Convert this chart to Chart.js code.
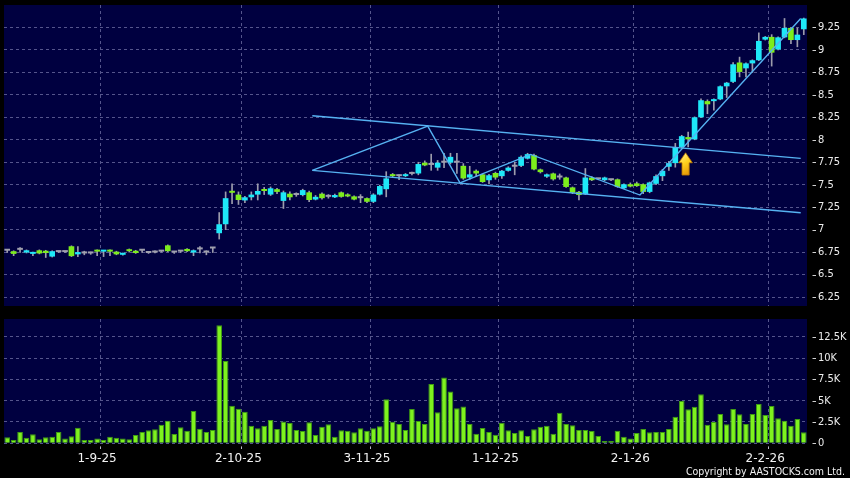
<!DOCTYPE html>
<html><head><meta charset="utf-8">
<script src="https://cdn.jsdelivr.net/npm/chart.js@4.4.1/dist/chart.umd.min.js"></script>
<style>
html,body{margin:0;padding:0;background:#000;}
#wrap{position:relative;width:850px;height:478px;background:#000;overflow:hidden;}
#pc{position:absolute;left:0;top:0;}
#vc{position:absolute;left:0;top:310px;}
#copy{position:absolute;right:5px;top:465px;font-family:'DejaVu Sans Condensed','DejaVu Sans',sans-serif;font-size:10.5px;color:#f2f2f2;line-height:12px;white-space:nowrap;}
</style></head><body>
<div id="wrap">
<canvas id="pc" width="850" height="310"></canvas>
<canvas id="vc" width="850" height="168"></canvas>
<div id="copy">Copyright by AASTOCKS.com Ltd.</div>
</div>
<script>
// ---------- DATA ----------
const categories = [
'11-8-25','12-8-25','13-8-25','14-8-25','15-8-25','18-8-25','19-8-25','20-8-25','21-8-25','22-8-25','25-8-25','26-8-25','27-8-25','28-8-25','29-8-25',
'1-9-25','2-9-25','3-9-25','4-9-25','5-9-25','8-9-25','9-9-25','10-9-25','11-9-25','12-9-25','15-9-25','16-9-25','17-9-25','18-9-25','19-9-25','22-9-25','23-9-25','24-9-25','25-9-25','26-9-25','29-9-25','30-9-25',
'2-10-25','3-10-25','6-10-25','8-10-25','9-10-25','10-10-25','13-10-25','14-10-25','15-10-25','16-10-25','17-10-25','20-10-25','21-10-25','22-10-25','23-10-25','24-10-25','27-10-25','28-10-25','30-10-25','31-10-25',
'3-11-25','4-11-25','5-11-25','6-11-25','7-11-25','10-11-25','11-11-25','12-11-25','13-11-25','14-11-25','17-11-25','18-11-25','19-11-25','20-11-25','21-11-25','24-11-25','25-11-25','26-11-25','27-11-25','28-11-25',
'1-12-25','2-12-25','3-12-25','4-12-25','5-12-25','8-12-25','9-12-25','10-12-25','11-12-25','12-12-25','15-12-25','16-12-25','17-12-25','18-12-25','19-12-25','22-12-25','23-12-25','24-12-25','29-12-25','30-12-25','31-12-25',
'2-1-26','5-1-26','6-1-26','7-1-26','8-1-26','9-1-26','12-1-26','13-1-26','14-1-26','15-1-26','16-1-26','19-1-26','20-1-26','21-1-26','22-1-26','23-1-26','26-1-26','27-1-26','28-1-26','29-1-26','30-1-26',
'2-2-26','3-2-26','4-2-26','5-2-26','6-2-26','9-2-26'];

const xTickLabels = ['1-9-25','2-10-25','3-11-25','1-12-25','2-1-26','2-2-26'];

const opens = [
6.765,6.76,6.775,6.745,6.73,6.77,6.765,6.70,6.75,6.75,
6.815,6.725,6.735,6.735,6.77,6.755,6.77,6.755,6.72,6.78,
6.765,6.765,6.74,6.745,6.755,6.825,6.745,6.755,6.785,6.745,
6.78,6.745,6.79,6.96,7.06,7.43,7.39,7.325,7.36,7.39,
7.445,7.39,7.45,7.32,7.40,7.385,7.385,7.415,7.335,7.40,
7.365,7.36,7.415,7.39,7.37,7.35,7.35,7.31,7.39,7.45,
7.615,7.595,7.595,7.62,7.625,7.745,7.72,7.69,7.745,7.745,
7.745,7.71,7.58,7.655,7.615,7.55,7.63,7.595,7.655,7.70,
7.71,7.79,7.83,7.67,7.59,7.625,7.58,7.58,7.47,7.42,
7.395,7.58,7.56,7.55,7.55,7.56,7.46,7.505,7.515,7.505,
7.42,7.51,7.595,7.70,7.74,7.92,8.03,8.005,8.25,8.43,
8.43,8.45,8.595,8.645,8.86,8.795,8.85,8.885,9.115,9.145,
9.005,9.14,9.245,9.11,9.23];

const highs = [
6.78,6.765,6.80,6.775,6.75,6.775,6.77,6.765,6.755,6.755,
6.82,6.81,6.76,6.75,6.775,6.77,6.775,6.76,6.74,6.785,
6.77,6.775,6.745,6.765,6.76,6.83,6.755,6.765,6.79,6.775,
6.81,6.765,6.795,7.19,7.42,7.51,7.42,7.37,7.42,7.51,
7.47,7.475,7.46,7.43,7.42,7.41,7.45,7.43,7.38,7.41,
7.39,7.395,7.42,7.40,7.375,7.39,7.355,7.40,7.495,7.645,
7.625,7.61,7.625,7.64,7.75,7.765,7.84,7.77,7.85,7.85,
7.85,7.735,7.705,7.665,7.62,7.615,7.64,7.66,7.70,7.75,
7.82,7.85,7.84,7.675,7.62,7.63,7.62,7.585,7.475,7.425,
7.68,7.59,7.565,7.585,7.56,7.565,7.51,7.52,7.53,7.51,
7.53,7.61,7.67,7.76,7.96,8.05,8.085,8.255,8.455,8.445,
8.455,8.60,8.64,8.86,8.92,8.855,8.89,9.19,9.15,9.17,
9.145,9.35,9.25,9.245,9.355];

const lows = [
6.745,6.71,6.745,6.74,6.71,6.73,6.69,6.695,6.745,6.745,
6.70,6.70,6.72,6.725,6.71,6.70,6.71,6.72,6.715,6.75,
6.735,6.745,6.735,6.74,6.75,6.755,6.735,6.745,6.755,6.71,
6.74,6.72,6.745,6.895,7.00,7.29,7.28,7.30,7.33,7.33,
7.39,7.38,7.40,7.235,7.33,7.37,7.375,7.31,7.33,7.34,
7.35,7.355,7.36,7.365,7.33,7.30,7.30,7.30,7.385,7.365,
7.58,7.555,7.59,7.61,7.61,7.71,7.66,7.66,7.69,7.73,
7.625,7.56,7.56,7.59,7.525,7.51,7.56,7.57,7.65,7.61,
7.70,7.785,7.665,7.63,7.58,7.55,7.56,7.47,7.40,7.33,
7.39,7.545,7.555,7.545,7.545,7.47,7.455,7.475,7.48,7.40,
7.41,7.50,7.545,7.66,7.695,7.91,7.92,8.00,8.245,8.29,
8.33,8.445,8.47,8.635,8.70,8.70,8.75,8.88,9.11,8.82,
9.00,9.135,9.07,9.035,9.17];

const closes = [
6.765,6.73,6.775,6.77,6.745,6.735,6.74,6.76,6.75,6.75,
6.705,6.75,6.735,6.735,6.755,6.765,6.755,6.725,6.735,6.76,
6.74,6.765,6.74,6.745,6.755,6.76,6.745,6.755,6.76,6.77,
6.78,6.745,6.79,7.06,7.35,7.41,7.33,7.36,7.39,7.43,
7.43,7.46,7.42,7.415,7.36,7.385,7.44,7.33,7.365,7.35,
7.365,7.385,7.365,7.37,7.335,7.35,7.31,7.39,7.485,7.57,
7.595,7.595,7.615,7.62,7.73,7.715,7.72,7.745,7.745,7.81,
7.745,7.57,7.615,7.625,7.53,7.605,7.58,7.655,7.69,7.70,
7.81,7.84,7.67,7.64,7.615,7.56,7.58,7.475,7.41,7.385,
7.58,7.55,7.56,7.58,7.55,7.475,7.505,7.48,7.485,7.42,
7.525,7.595,7.655,7.74,7.92,8.04,8.005,8.25,8.44,8.395,
8.45,8.595,8.635,8.84,8.755,8.85,8.885,9.10,9.145,8.97,
9.14,9.245,9.11,9.17,9.35];

const volumes = [
700,390,1320,660,1050,470,700,780,1320,550,
820,1830,390,390,550,390,780,660,550,470,
980,1320,1520,1640,2180,2650,1090,1870,1480,3790,
1720,1320,1560,13860,9650,4410,4060,3710,2070,1760,
2070,2730,1680,2570,2380,1560,1440,2460,980,1950,
2220,780,1520,1480,1290,1760,1480,1760,1990,5160,
2540,2260,1560,4020,2610,2260,6950,3630,7730,6090,
4100,4330,2260,1130,1800,1320,1010,2420,1520,1210,
1520,860,1640,1950,2070,1130,3590,2260,2110,1560,
1560,1440,860,270,270,1480,780,550,1210,1680,
1290,1320,1320,1680,3120,4960,3980,4290,5740,2180,
2500,3440,2220,4020,3400,2260,3440,4610,3320,4370,
2930,2650,2070,2850,1290];

const priceTicks = [6.25,6.5,6.75,7,7.25,7.5,7.75,8,8.25,8.5,8.75,9,9.25];
const volumeTicks = [0,2500,5000,7500,10000,12500];

// drawn annotations (x = bar index, y = price)
const channelUpper = [{x:47.49,y:8.267},{x:123.52,y:7.793}];
const channelLower = [{x:47.49,y:7.659},{x:123.52,y:7.188}];
const zigzag = [{x:47.49,y:7.659},{x:65.46,y:8.152},{x:70.48,y:7.521},{x:81.49,y:7.837},{x:98.5,y:7.385},{x:123.52,y:9.35}];
const arrowMark = {x:105.6, top:7.855, bottom:7.607};

// ---------- STYLE ----------
const UP = '#1ee8f8', DOWN = '#7ced1c', FLAT = '#a0a0ae';
const WICK = '#9c9cac';
const NAVY = '#000040', GRID = '#55558c', TREND = '#56b2f2';
const VOL = '#7ef21e', VOLB = '#3e9c12';
const N = categories.length;

const bgPlugin = {
  id: 'navybg',
  beforeDraw(chart) {
    const {ctx, chartArea: a} = chart;
    ctx.save();
    ctx.fillStyle = NAVY;
    ctx.fillRect(a.left, a.top, a.right - a.left, a.bottom - a.top);
    ctx.restore();
  }
};
const tickDash = {
  id: 'tickdash',
  afterDraw(chart) {
    const s = chart.scales.y, ctx = chart.ctx;
    ctx.save();
    ctx.strokeStyle = '#d0d0d0';
    ctx.lineWidth = 1;
    s.ticks.forEach(t => {
      const y = Math.round(s.getPixelForValue(t.value)) + 0.5;
      ctx.beginPath();
      ctx.moveTo(s.left + 5.5, y);
      ctx.lineTo(s.left + 9, y);
      ctx.stroke();
    });
    ctx.restore();
  }
};
const arrowPlugin = {
  id: 'arrow',
  afterDatasetsDraw(chart) {
    const ctx = chart.ctx, xs = chart.scales.xl, ys = chart.scales.y;
    const cx = xs.getPixelForValue(arrowMark.x);
    const ty = ys.getPixelForValue(arrowMark.top);
    const by = ys.getPixelForValue(arrowMark.bottom);
    const hh = 10, hw = 6.8, sw = 3.6;
    ctx.save();
    const g = ctx.createLinearGradient(cx - hw, ty, cx + hw, by);
    g.addColorStop(0, '#fff49a');
    g.addColorStop(0.45, '#ffd21e');
    g.addColorStop(1, '#e08a00');
    ctx.beginPath();
    ctx.moveTo(cx, ty);
    ctx.lineTo(cx + hw, ty + hh);
    ctx.lineTo(cx + sw, ty + hh);
    ctx.lineTo(cx + sw, by);
    ctx.lineTo(cx - sw, by);
    ctx.lineTo(cx - sw, ty + hh);
    ctx.lineTo(cx - hw, ty + hh);
    ctx.closePath();
    ctx.fillStyle = g;
    ctx.fill();
    ctx.strokeStyle = '#b87400';
    ctx.lineWidth = 0.8;
    ctx.stroke();
    ctx.restore();
  }
};

const gridX = (ctx) => (ctx.index !== undefined && xTickLabels.includes(categories[ctx.index])) ? GRID : 'rgba(0,0,0,0)';
const tickX = (ctx) => (ctx.index !== undefined && xTickLabels.includes(categories[ctx.index])) ? '#b8b8c8' : 'rgba(0,0,0,0)';

const dir = closes.map((c, i) => c > opens[i] ? 1 : (c < opens[i] ? -1 : 0));
const bodyColors = dir.map(d => d > 0 ? UP : (d < 0 ? DOWN : FLAT));
const bodyData = opens.map((o, i) => [Math.min(o, closes[i]), Math.max(o, closes[i])]);
const rangeData = lows.map((l, i) => [l, highs[i]]);

const axisFont = {family: "'DejaVu Sans Condensed','DejaVu Sans',sans-serif", size: 11};
const dateFont = {family: "'DejaVu Sans',sans-serif", size: 12};

const trendDS = (label, data) => ({
  type: 'line', label, data, xAxisID: 'xl', yAxisID: 'y',
  borderColor: TREND, borderWidth: 1.4, pointRadius: 0, fill: false, tension: 0, order: 0
});

new Chart(document.getElementById('pc'), {
  type: 'bar',
  data: {
    labels: categories,
    datasets: [
      trendDS('Upper channel', channelUpper),
      trendDS('Lower channel', channelLower),
      trendDS('Swing', zigzag),
      {type: 'bar', label: 'Open/Close', data: bodyData, xAxisID: 'x', yAxisID: 'y',
       backgroundColor: bodyColors, borderWidth: 0,
       barPercentage: 0.88, categoryPercentage: 1, grouped: false, minBarLength: 2, order: 1},
      {type: 'bar', label: 'High/Low', data: rangeData, xAxisID: 'x', yAxisID: 'y',
       backgroundColor: WICK, barThickness: 1, grouped: false, order: 2}
    ]
  },
  options: {
    responsive: false, animation: false, events: [],
    layout: {padding: {left: 4, top: 5, right: 0, bottom: 4}},
    plugins: {legend: {display: false}, tooltip: {enabled: false}},
    scales: {
      x: {type: 'category', offset: true,
          grid: {offset: true, color: gridX, drawTicks: false, lineWidth: 1},
          border: {display: false, dash: [3, 3]},
          ticks: {display: false, autoSkip: false},
          afterFit(s) { s.height = 0; s.paddingLeft = 0; s.paddingRight = 0; }},
      xl: {type: 'linear', display: false, min: -0.5, max: N - 0.5, offset: false},
      y: {type: 'linear', position: 'right', min: 6.15, max: 9.5,
          afterBuildTicks(s) { s.ticks = priceTicks.map(v => ({value: v})); },
          ticks: {padding: 11, color: '#ececec', font: axisFont, callback: v => String(v)},
          grid: {color: GRID, drawTicks: false},
          border: {display: false, dash: [3, 3]},
          afterFit(s) { s.width = 43; s.paddingTop = 0; s.paddingBottom = 0; }}
    }
  },
  plugins: [bgPlugin, tickDash, arrowPlugin]
});

new Chart(document.getElementById('vc'), {
  type: 'bar',
  data: {
    labels: categories,
    datasets: [{label: 'Volume', data: volumes, backgroundColor: VOL, borderColor: VOLB, borderWidth: 1,
                barPercentage: 0.88, categoryPercentage: 1}]
  },
  options: {
    responsive: false, animation: false, events: [],
    layout: {padding: {left: 4, top: 9, right: 0, bottom: 0}},
    plugins: {legend: {display: false}, tooltip: {enabled: false}},
    scales: {
      x: {type: 'category', offset: true,
          grid: {offset: true, color: gridX, drawTicks: true, tickLength: 6, tickColor: tickX, tickBorderDash: [0, 3.4, 2.6, 30]},
          border: {display: false, dash: [3, 3]},
          ticks: {autoSkip: false, maxRotation: 0, minRotation: 0, padding: 2, labelOffset: -6.5,
                  color: '#f2f2f2', font: dateFont,
                  callback(v) { const l = this.getLabelForValue(v); return xTickLabels.includes(l) ? l : ''; }},
          afterFit(s) { s.height = 34.7; s.paddingLeft = 0; s.paddingRight = 0; }},
      y: {type: 'linear', position: 'right', min: 0, max: 14580,
          afterBuildTicks(s) { s.ticks = volumeTicks.map(v => ({value: v})); },
          ticks: {padding: 11, color: '#ececec', font: axisFont,
                  callback: v => v === 0 ? '0' : (v / 1000) + 'K'},
          grid: {color: GRID, drawTicks: false},
          border: {display: false, dash: [3, 3]},
          afterFit(s) { s.width = 43; s.paddingTop = 0; s.paddingBottom = 0; }}
    }
  },
  plugins: [bgPlugin, tickDash]
});
</script>
</body></html>
